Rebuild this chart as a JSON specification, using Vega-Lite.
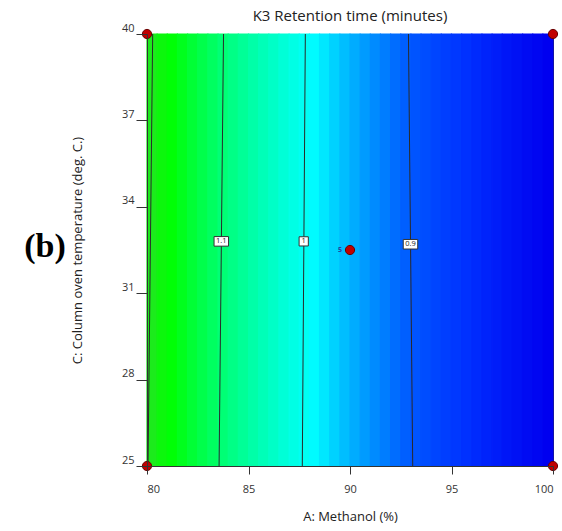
{
  "$schema": "https://vega.github.io/schema/vega-lite/v6.json",
  "background": "white",
  "padding": {"top": 8, "left": 5, "right": 5, "bottom": 5},
  "bounds": "flush",
  "spacing": 62,
  "datasets": {
    "surface": [
      {"A0": 80.0, "A1": 80.5, "C0": 25, "C1": 40, "K3": 1.196},
      {"A0": 80.5, "A1": 81.0, "C0": 25, "C1": 40, "K3": 1.181},
      {"A0": 81.0, "A1": 81.5, "C0": 25, "C1": 40, "K3": 1.166},
      {"A0": 81.5, "A1": 82.0, "C0": 25, "C1": 40, "K3": 1.152},
      {"A0": 82.0, "A1": 82.5, "C0": 25, "C1": 40, "K3": 1.137},
      {"A0": 82.5, "A1": 83.0, "C0": 25, "C1": 40, "K3": 1.123},
      {"A0": 83.0, "A1": 83.5, "C0": 25, "C1": 40, "K3": 1.110},
      {"A0": 83.5, "A1": 84.0, "C0": 25, "C1": 40, "K3": 1.096},
      {"A0": 84.0, "A1": 84.5, "C0": 25, "C1": 40, "K3": 1.083},
      {"A0": 84.5, "A1": 85.0, "C0": 25, "C1": 40, "K3": 1.070},
      {"A0": 85.0, "A1": 85.5, "C0": 25, "C1": 40, "K3": 1.057},
      {"A0": 85.5, "A1": 86.0, "C0": 25, "C1": 40, "K3": 1.045},
      {"A0": 86.0, "A1": 86.5, "C0": 25, "C1": 40, "K3": 1.033},
      {"A0": 86.5, "A1": 87.0, "C0": 25, "C1": 40, "K3": 1.021},
      {"A0": 87.0, "A1": 87.5, "C0": 25, "C1": 40, "K3": 1.010},
      {"A0": 87.5, "A1": 88.0, "C0": 25, "C1": 40, "K3": 0.999},
      {"A0": 88.0, "A1": 88.5, "C0": 25, "C1": 40, "K3": 0.988},
      {"A0": 88.5, "A1": 89.0, "C0": 25, "C1": 40, "K3": 0.978},
      {"A0": 89.0, "A1": 89.5, "C0": 25, "C1": 40, "K3": 0.967},
      {"A0": 89.5, "A1": 90.0, "C0": 25, "C1": 40, "K3": 0.957},
      {"A0": 90.0, "A1": 90.5, "C0": 25, "C1": 40, "K3": 0.948},
      {"A0": 90.5, "A1": 91.0, "C0": 25, "C1": 40, "K3": 0.938},
      {"A0": 91.0, "A1": 91.5, "C0": 25, "C1": 40, "K3": 0.929},
      {"A0": 91.5, "A1": 92.0, "C0": 25, "C1": 40, "K3": 0.921},
      {"A0": 92.0, "A1": 92.5, "C0": 25, "C1": 40, "K3": 0.912},
      {"A0": 92.5, "A1": 93.0, "C0": 25, "C1": 40, "K3": 0.904},
      {"A0": 93.0, "A1": 93.5, "C0": 25, "C1": 40, "K3": 0.896},
      {"A0": 93.5, "A1": 94.0, "C0": 25, "C1": 40, "K3": 0.889},
      {"A0": 94.0, "A1": 94.5, "C0": 25, "C1": 40, "K3": 0.881},
      {"A0": 94.5, "A1": 95.0, "C0": 25, "C1": 40, "K3": 0.874},
      {"A0": 95.0, "A1": 95.5, "C0": 25, "C1": 40, "K3": 0.868},
      {"A0": 95.5, "A1": 96.0, "C0": 25, "C1": 40, "K3": 0.861},
      {"A0": 96.0, "A1": 96.5, "C0": 25, "C1": 40, "K3": 0.855},
      {"A0": 96.5, "A1": 97.0, "C0": 25, "C1": 40, "K3": 0.849},
      {"A0": 97.0, "A1": 97.5, "C0": 25, "C1": 40, "K3": 0.844},
      {"A0": 97.5, "A1": 98.0, "C0": 25, "C1": 40, "K3": 0.838},
      {"A0": 98.0, "A1": 98.5, "C0": 25, "C1": 40, "K3": 0.834},
      {"A0": 98.5, "A1": 99.0, "C0": 25, "C1": 40, "K3": 0.829},
      {"A0": 99.0, "A1": 99.5, "C0": 25, "C1": 40, "K3": 0.825},
      {"A0": 99.5, "A1": 100.0, "C0": 25, "C1": 40, "K3": 0.820}
    ],
    "contours": [
      {"level": "1.2", "A": 80.05, "C": 25},
      {"level": "1.2", "A": 80.28, "C": 40},
      {"level": "1.1", "A": 83.55, "C": 25},
      {"level": "1.1", "A": 83.77, "C": 40},
      {"level": "1", "A": 87.65, "C": 25},
      {"level": "1", "A": 87.8, "C": 40},
      {"level": "0.9", "A": 93.09, "C": 25},
      {"level": "0.9", "A": 92.88, "C": 40}
    ],
    "contourLabels": [
      {"label": "1.1", "A": 83.66, "C": 32.8},
      {"label": "1", "A": 87.72, "C": 32.8},
      {"label": "0.9", "A": 92.98, "C": 32.7}
    ],
    "designPoints": [
      {"A": 80, "C": 25, "runs": ""},
      {"A": 80, "C": 40, "runs": ""},
      {"A": 100, "C": 25, "runs": ""},
      {"A": 100, "C": 40, "runs": ""},
      {"A": 90, "C": 32.5, "runs": "5"}
    ]
  },
  "hconcat": [
    {
      "width": 80,
      "height": 432,
      "view": {"stroke": null},
      "data": {"values": [{"tag": "(b)"}]},
      "mark": {
        "type": "text",
        "font": "Liberation Serif",
        "fontWeight": "bold",
        "fontSize": 34,
        "color": "black",
        "dy": -3
      },
      "encoding": {"text": {"field": "tag"}}
    },
    {
      "width": 406,
      "height": 432,
      "view": {"stroke": "#333333"},
      "title": {
        "text": "K3 Retention time (minutes)",
        "font": "Open Sans",
        "fontSize": 15,
        "fontWeight": "normal",
        "color": "#222222",
        "offset": 0,
        "dy": 2
      },
      "layer": [
        {
          "data": {"name": "surface"},
          "mark": {"type": "rect", "strokeWidth": 1.2},
          "encoding": {
            "x": {
              "field": "A0",
              "type": "quantitative",
              "scale": {"domain": [80, 100], "nice": false, "zero": false},
              "axis": {
                "title": "A: Methanol (%)",
                "values": [80, 85, 90, 95, 100],
                "grid": false,
                "tickSize": 8,
                "labelPadding": 9,
                "titlePadding": 16,
                "zindex": 1
              }
            },
            "x2": {"field": "A1"},
            "y": {
              "field": "C0",
              "type": "quantitative",
              "scale": {"domain": [25, 40], "nice": false, "zero": false},
              "axis": {
                "title": "C: Column oven temperature (deg. C.)",
                "values": [25, 28, 31, 34, 37, 40],
                "grid": false,
                "tickSize": 11,
                "labelPadding": 2,
                "labelBaseline": "bottom",
                "labelOffset": -1,
                "titlePadding": 37,
                "zindex": 1
              }
            },
            "y2": {"field": "C1"},
            "color": {
              "field": "K3",
              "type": "quantitative",
              "legend": null,
              "scale": {
                "domain": [0.82, 0.86, 0.9, 0.95, 0.99, 1.02, 1.1, 1.17, 1.2],
                "range": ["#0000f0", "#0030ff", "#0058ff", "#00b0ff", "#00ffff", "#00ffd8", "#00ff70", "#00ff00", "#20e820"],
                "interpolate": "rgb"
              }
            },
            "stroke": {
              "field": "K3",
              "type": "quantitative",
              "legend": null,
              "scale": {
                "domain": [0.82, 0.86, 0.9, 0.95, 0.99, 1.02, 1.1, 1.17, 1.2],
                "range": ["#0000f0", "#0030ff", "#0058ff", "#00b0ff", "#00ffff", "#00ffd8", "#00ff70", "#00ff00", "#20e820"],
                "interpolate": "rgb"
              }
            }
          }
        },
        {
          "data": {"name": "contours"},
          "mark": {"type": "line", "color": "#2a2a2a", "strokeWidth": 1},
          "encoding": {
            "x": {"field": "A", "type": "quantitative"},
            "y": {"field": "C", "type": "quantitative"},
            "detail": {"field": "level"}
          }
        },
        {
          "data": {"name": "contourLabels"},
          "transform": [{"filter": "datum.label != '1'"}],
          "mark": {
            "type": "point",
            "shape": "M-1,-0.66H1V0.66H-1Z",
            "size": 210,
            "filled": true,
            "fill": "white",
            "stroke": "#333333",
            "strokeWidth": 1,
            "opacity": 1
          },
          "encoding": {
            "x": {"field": "A", "type": "quantitative"},
            "y": {"field": "C", "type": "quantitative"}
          }
        },
        {
          "data": {"name": "contourLabels"},
          "transform": [{"filter": "datum.label == '1'"}],
          "mark": {
            "type": "point",
            "shape": "M-1,-1H1V1H-1Z",
            "size": 85,
            "filled": true,
            "fill": "white",
            "stroke": "#333333",
            "strokeWidth": 1,
            "opacity": 1
          },
          "encoding": {
            "x": {"field": "A", "type": "quantitative"},
            "y": {"field": "C", "type": "quantitative"}
          }
        },
        {
          "data": {"name": "contourLabels"},
          "mark": {"type": "text", "font": "Open Sans", "fontSize": 7.5, "color": "#222222"},
          "encoding": {
            "x": {"field": "A", "type": "quantitative"},
            "y": {"field": "C", "type": "quantitative"},
            "text": {"field": "label"}
          }
        },
        {
          "data": {"name": "designPoints"},
          "mark": {
            "type": "point",
            "shape": "circle",
            "size": 85,
            "filled": true,
            "fill": "#c00000",
            "stroke": "#6a0000",
            "strokeWidth": 1,
            "opacity": 1
          },
          "encoding": {
            "x": {"field": "A", "type": "quantitative"},
            "y": {"field": "C", "type": "quantitative"}
          }
        },
        {
          "data": {"name": "designPoints"},
          "transform": [{"filter": "datum.runs != ''"}],
          "mark": {
            "type": "text",
            "font": "Open Sans",
            "fontSize": 7,
            "fontWeight": "bold",
            "color": "#2a3f9a",
            "dx": -10
          },
          "encoding": {
            "x": {"field": "A", "type": "quantitative"},
            "y": {"field": "C", "type": "quantitative"},
            "text": {"field": "runs"}
          }
        }
      ]
    }
  ],
  "config": {
    "font": "Open Sans",
    "axis": {
      "labelFont": "Open Sans",
      "labelFontSize": 11,
      "labelColor": "#333333",
      "titleFont": "Open Sans",
      "titleFontSize": 13,
      "titleFontWeight": "normal",
      "titleColor": "#222222",
      "domainColor": "#333333",
      "tickColor": "#333333"
    }
  }
}
